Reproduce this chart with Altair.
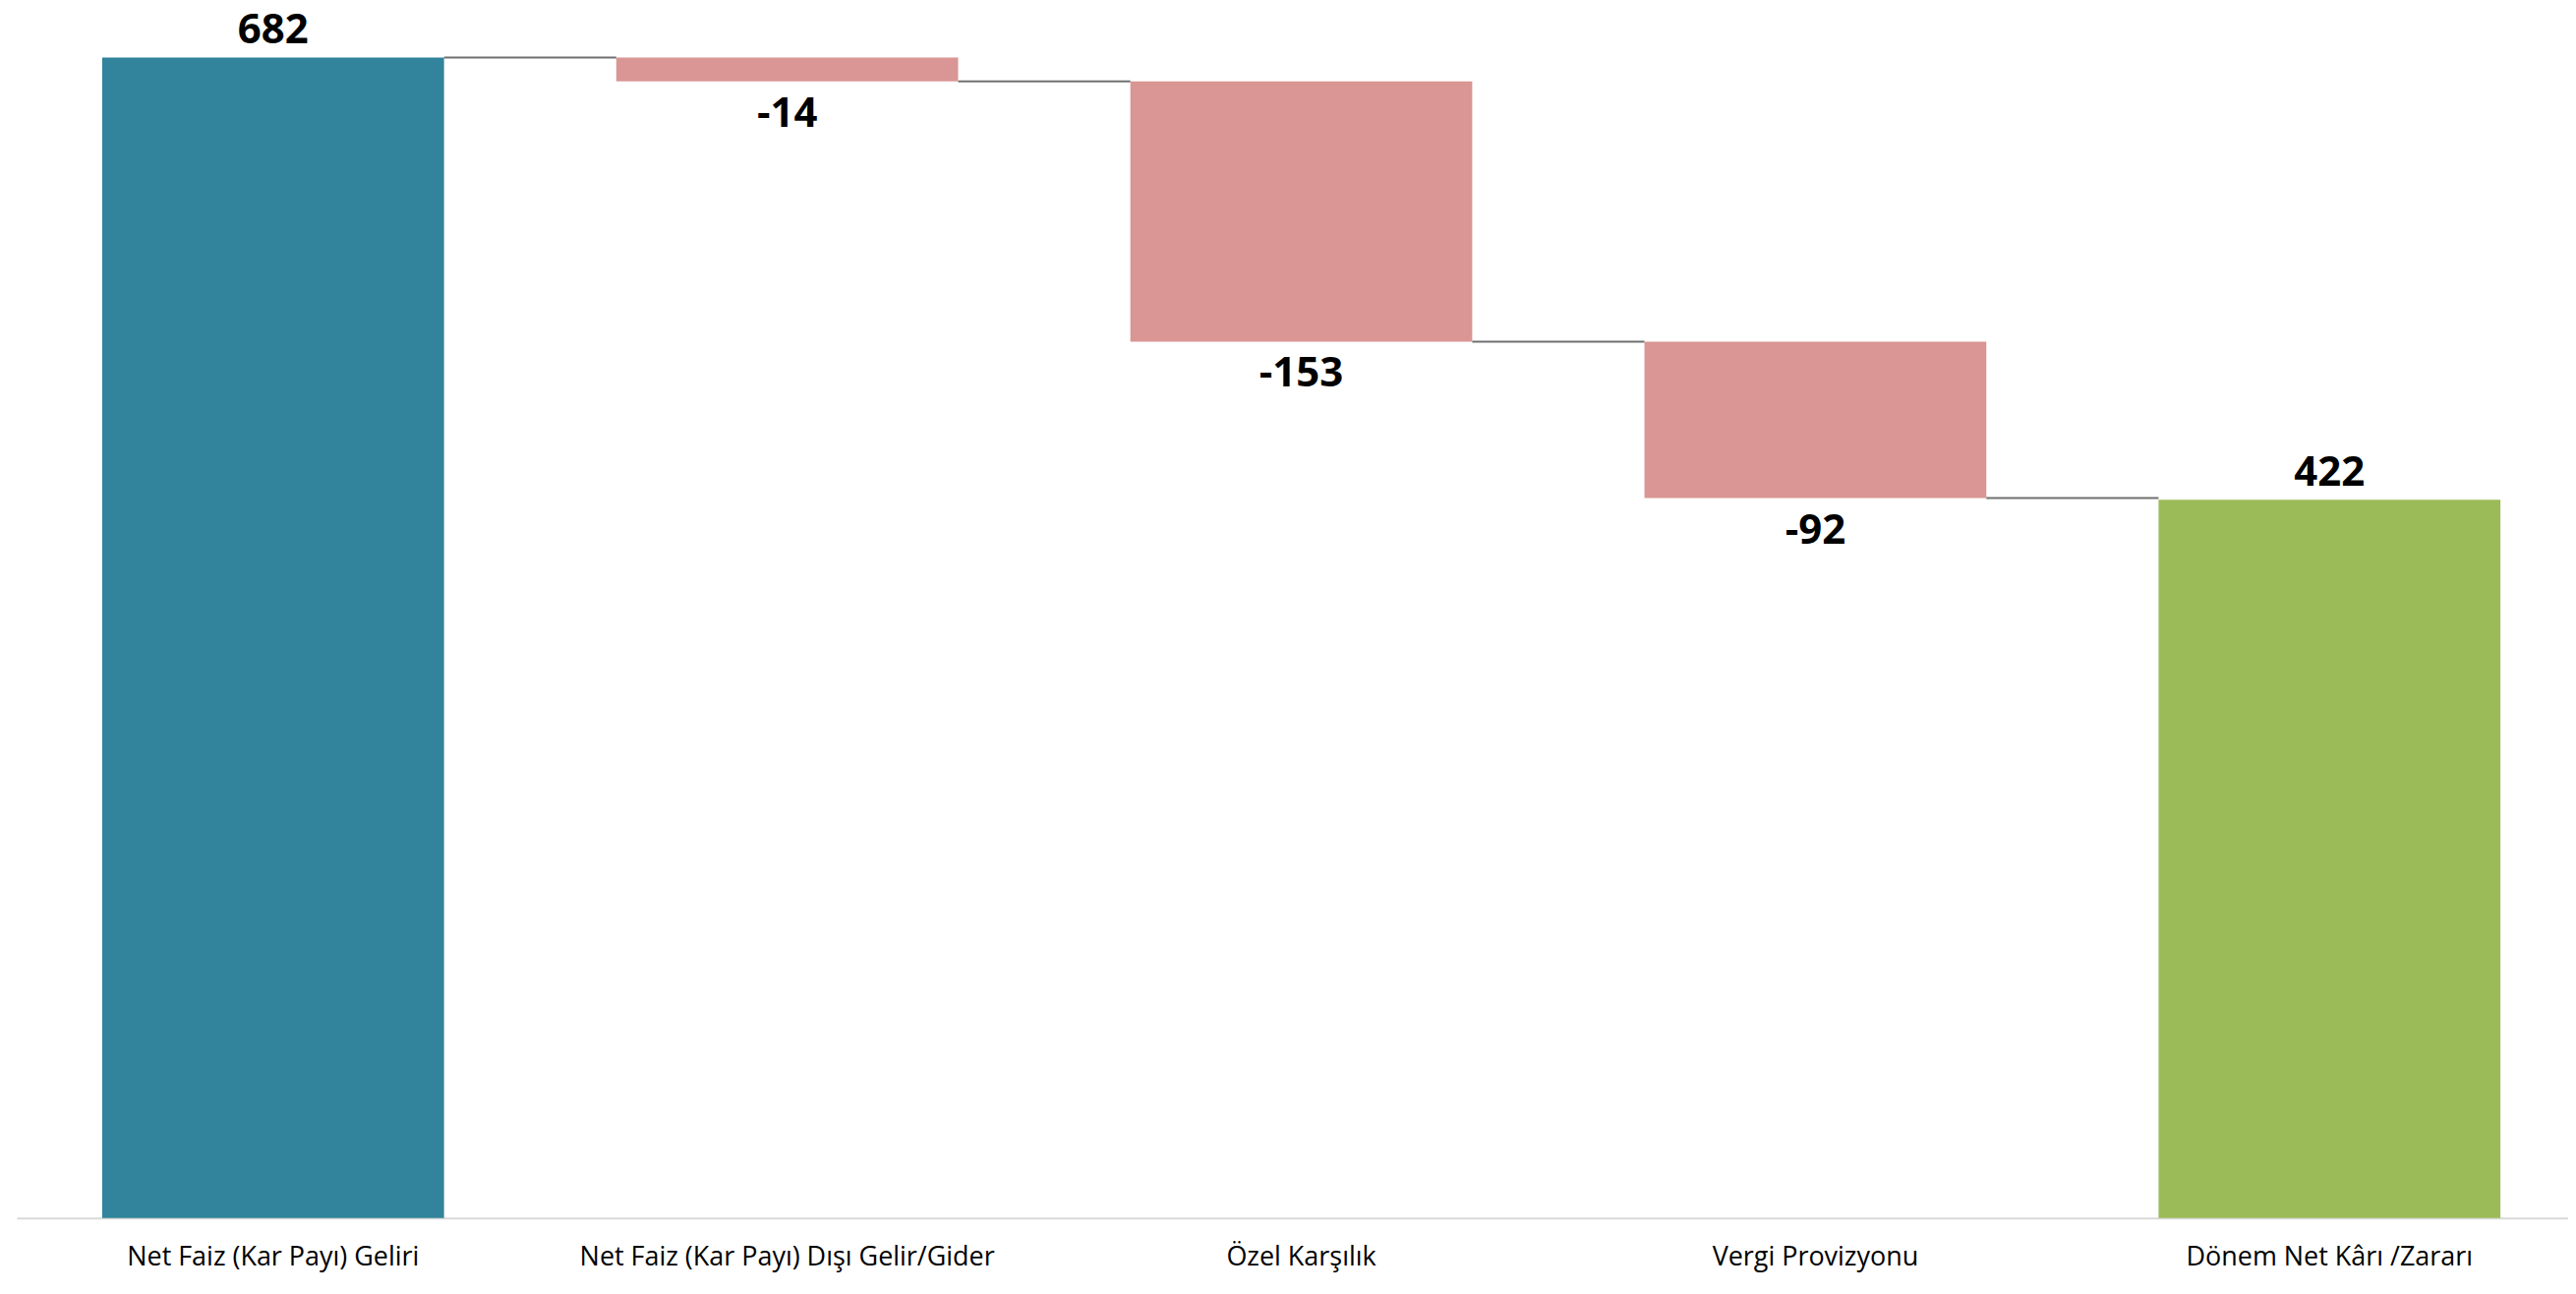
import altair as alt
import pandas as pd

categories = [
    "Net Faiz (Kar Payı) Geliri",
    "Net Faiz (Kar Payı) Dışı Gelir/Gider",
    "Özel Karşılık",
    "Vergi Provizyonu",
    "Dönem Net Kârı /Zararı",
]
values = [682, -14, -153, -92, 422]
kinds = ["total", "delta", "delta", "delta", "total"]
bar_colors = ["#31849B", "#D99694", "#D99694", "#D99694", "#9BBB59"]

# running totals for the waterfall
starts, ends = [], []
running = 0
for v, k in zip(values, kinds):
    if k == "total":
        s, e = 0, v
        running = v
    else:
        s, e = running, running + v
        running = running + v
    starts.append(s)
    ends.append(e)

bars_df = pd.DataFrame({
    "cat": categories,
    "value": values,
    "start": starts,
    "end": ends,
    "lo": [min(a, b) for a, b in zip(starts, ends)],
    "hi": [max(a, b) for a, b in zip(starts, ends)],
    "color": bar_colors,
    "label": [str(v) for v in values],
})

conn_df = pd.DataFrame({
    "cat": categories[:-1],
    "next": categories[1:],
    "level": ends[:-1],
})

FONT = "Open Sans"

x_scale = alt.Scale(domain=categories, paddingInner=0.335, paddingOuter=0.149,
                    align=0.558, round=False)
y_scale = alt.Scale(domain=[0, 704.5], nice=False, zero=True)

x_enc = alt.X(
    "cat:N",
    scale=x_scale,
    sort=categories,
    axis=alt.Axis(
        title=None,
        labelAngle=0,
        ticks=False,
        labelPadding=27,
        labelFont=FONT,
        labelFontSize=27,
        labelLimit=0,
        labelColor="#000000",
        domainColor="#D9D9D9",
        domainWidth=2,
        grid=False,
    ),
)

bars = alt.Chart(bars_df).mark_bar().encode(
    x=x_enc,
    y=alt.Y("start:Q", scale=y_scale, axis=None),
    y2="end:Q",
    color=alt.Color("color:N", scale=None),
)

connectors = alt.Chart(conn_df).mark_rule(color="#707070", strokeWidth=2).encode(
    x=alt.X("cat:N", bandPosition=1, scale=x_scale, sort=categories),
    x2=alt.X2("next:N", bandPosition=0),
    y=alt.Y("level:Q", scale=y_scale),
)

pos_labels = alt.Chart(bars_df).transform_filter("datum.value >= 0").mark_text(
    font=FONT, fontSize=42, fontWeight="bold", color="#000000",
    baseline="alphabetic", align="center", dy=-14,
).encode(
    x=alt.X("cat:N", scale=x_scale, sort=categories),
    y=alt.Y("hi:Q", scale=y_scale),
    text="label:N",
)

neg_labels = alt.Chart(bars_df).transform_filter("datum.value < 0").mark_text(
    font=FONT, fontSize=42, fontWeight="bold", color="#000000",
    baseline="alphabetic", align="center", dy=46,
).encode(
    x=alt.X("cat:N", scale=x_scale, sort=categories),
    y=alt.Y("lo:Q", scale=y_scale),
    text="label:N",
)

chart = alt.layer(bars, connectors, pos_labels, neg_labels).properties(
    width=2601,
    height=1222,
    padding={"left": 9, "top": 10, "right": 0, "bottom": 60},
    autosize=alt.AutoSizeParams(type="none"),
    background="#FFFFFF",
).configure_view(stroke=None)

chart.save("out.html", embed_options={"renderer": "svg", "actions": False})
